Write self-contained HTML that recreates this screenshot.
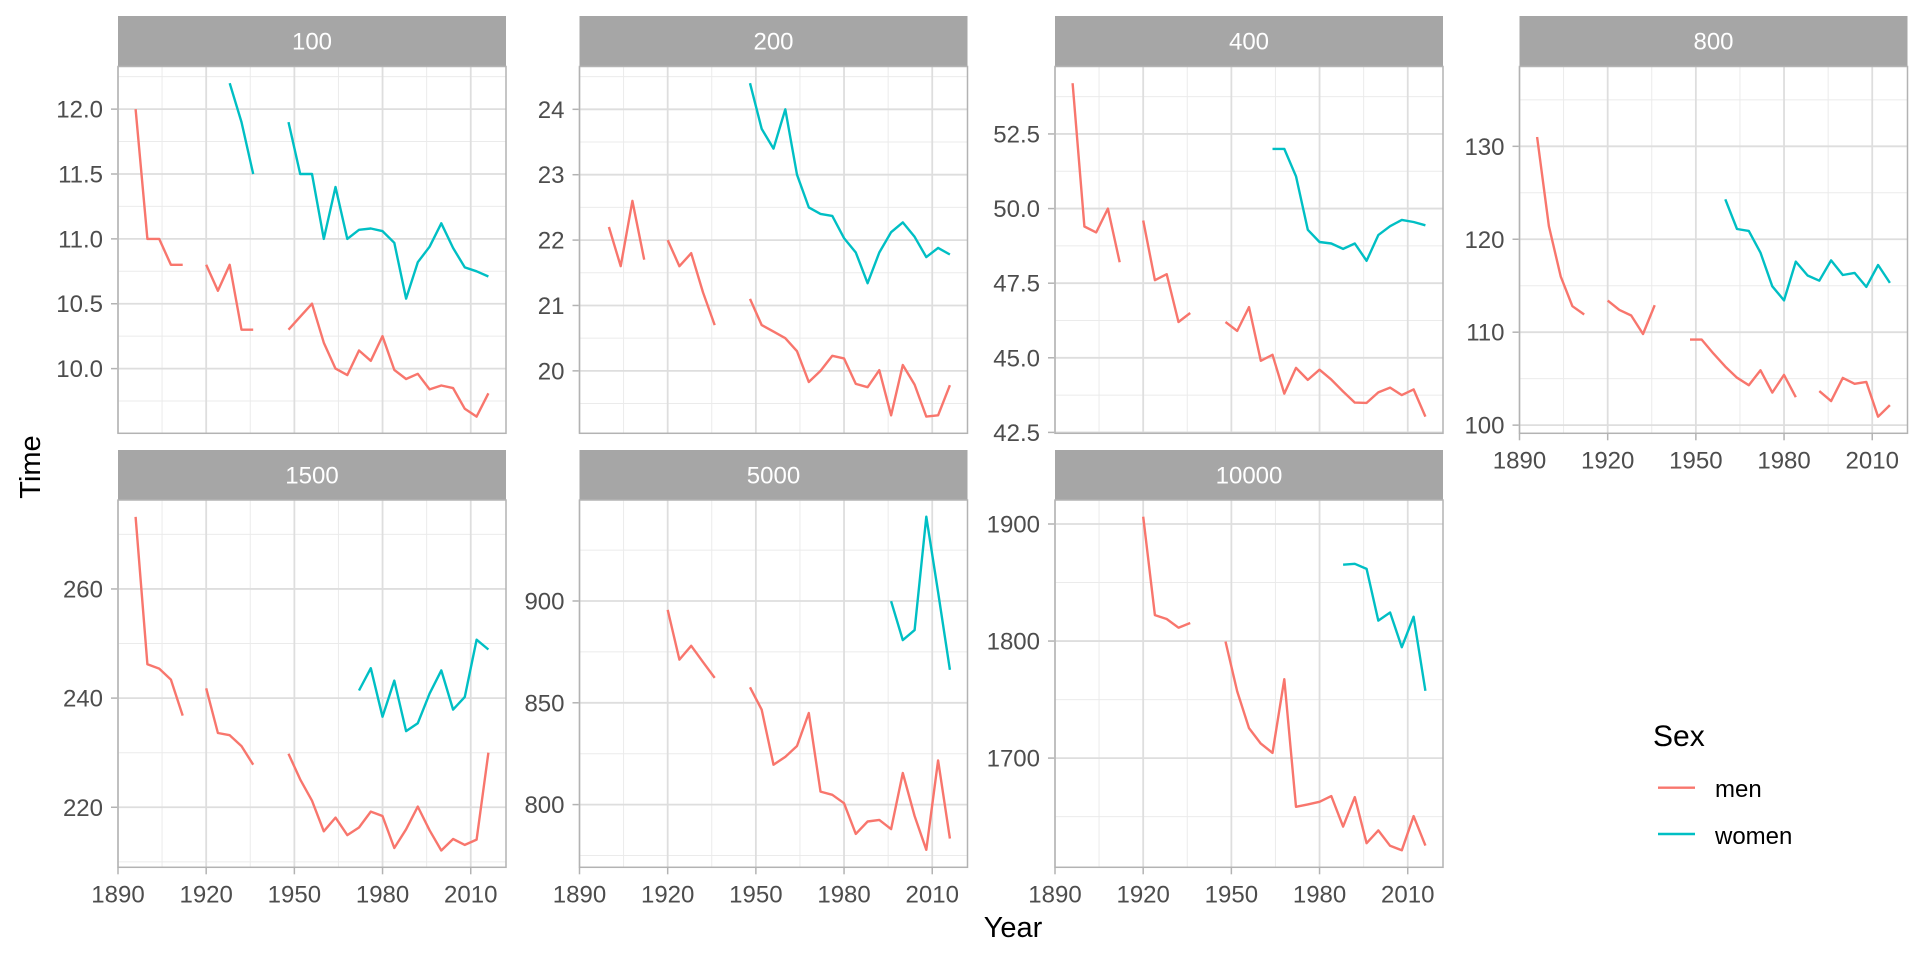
<!DOCTYPE html>
<html><head><meta charset="utf-8"><style>
html,body{margin:0;padding:0;background:#fff;}
svg{display:block;}
text{font-family:"Liberation Sans",Arial,sans-serif;}
</style></head><body>
<svg id="c" width="1920" height="960" xmlns="http://www.w3.org/2000/svg"></svg>
<script>
const S=document.getElementById('c');
let h='';
const W=388, XL=1890, XR=2022;
const cols=[118,579.5,1055,1519.5];
const rows=[{s:16,t:66.5,b:433.3},{s:450,t:500,b:867.3}];
const RED='#F8766D', TEAL='#00BFC4';
function yrs(a,b){const r=[];for(let y=a;y<=b;y+=4)r.push(y);return r;}
function ser(start,vals){return vals.map((v,i)=>[start+4*i,v]);}
const P=[
{name:'100',c:0,r:0,d:[9.5015,12.3285],maj:[10,10.5,11,11.5,12],lab:['10.0','10.5','11.0','11.5','12.0'],min:[9.75,10.25,10.75,11.25,11.75,12.25],
 men:ser(1896,[12.0,11.0,11.0,10.8,10.8,null,10.8,10.6,10.8,10.3,10.3,null,null,10.3,10.4,10.5,10.2,10.0,9.95,10.14,10.06,10.25,9.99,9.92,9.96,9.84,9.87,9.85,9.69,9.63,9.81]),
 wom:ser(1928,[12.2,11.9,11.5,null,null,11.9,11.5,11.5,11.0,11.4,11.0,11.07,11.08,11.06,10.97,10.54,10.82,10.94,11.12,10.93,10.78,10.75,10.71])},
{name:'200',c:1,r:0,d:[19.045,24.655],maj:[20,21,22,23,24],lab:['20','21','22','23','24'],min:[19.5,20.5,21.5,22.5,23.5,24.5],
 men:ser(1900,[22.2,21.6,22.6,21.7,null,22.0,21.6,21.8,21.2,20.7,null,null,21.1,20.7,20.6,20.5,20.3,19.83,20.0,20.23,20.19,19.8,19.75,20.01,19.32,20.09,19.79,19.30,19.32,19.78]),
 wom:ser(1948,[24.4,23.7,23.4,24.0,23.0,22.5,22.4,22.37,22.03,21.81,21.34,21.81,22.12,22.27,22.05,21.74,21.88,21.78])},
{name:'400',c:2,r:0,d:[42.47,54.76],maj:[42.5,45,47.5,50,52.5],lab:['42.5','45.0','47.5','50.0','52.5'],min:[43.75,46.25,48.75,51.25,53.75],
 men:ser(1896,[54.2,49.4,49.2,50.0,48.2,null,49.6,47.6,47.8,46.2,46.5,null,null,46.2,45.9,46.7,44.9,45.1,43.8,44.66,44.26,44.6,44.27,43.87,43.5,43.49,43.84,44.0,43.75,43.94,43.03]),
 wom:ser(1964,[52.0,52.0,51.08,49.29,48.88,48.83,48.65,48.83,48.25,49.11,49.41,49.62,49.55,49.44])},
{name:'800',c:3,r:0,d:[99.12,138.59],maj:[100,110,120,130],lab:['100','110','120','130'],min:[105,115,125,135],xax:true,
 men:ser(1896,[131.0,121.4,116.0,112.8,111.9,null,113.4,112.4,111.8,109.8,112.9,null,null,109.2,109.2,107.7,106.3,105.1,104.3,105.9,103.5,105.4,103.0,null,103.66,102.58,105.08,104.45,104.65,100.91,102.15]),
 wom:ser(1960,[124.3,121.1,120.9,118.55,114.94,113.42,117.6,116.1,115.54,117.73,116.15,116.38,114.87,117.23,115.3])},
{name:'1500',c:0,r:1,d:[209.0,276.3],maj:[220,240,260],lab:['220','240','260'],min:[210,230,250,270],xax:true,
 men:ser(1896,[273.2,246.2,245.4,243.4,236.8,null,241.8,233.6,233.2,231.2,227.8,null,null,229.8,225.1,221.2,215.6,218.1,214.9,216.3,219.2,218.4,212.53,215.96,220.12,215.78,212.07,214.18,213.11,214.08,230.0]),
 wom:ser(1972,[241.4,245.48,236.6,243.2,233.96,235.4,240.83,245.08,237.9,240.23,250.7,248.9])},
{name:'5000',c:1,r:1,d:[769.2,949.6],maj:[800,850,900],lab:['800','850','900'],min:[775,825,875,925],xax:true,
 men:ser(1920,[895.6,871.2,878.0,870.0,862.2,null,null,857.6,846.6,819.6,823.4,828.8,845.0,806.4,804.8,800.7,785.6,791.7,792.5,787.96,815.5,794.4,777.8,821.7,783.3]),
 wom:ser(1996,[899.9,880.8,885.7,941.4,904.3,866.2])},
{name:'10000',c:2,r:1,d:[1606.7,1920.5],maj:[1700,1800,1900],lab:['1700','1800','1900'],min:[1650,1750,1850],xax:true,
 men:ser(1920,[1906.2,1822.2,1818.8,1811.4,1815.4,null,null,1799.6,1757.0,1725.6,1712.4,1704.4,1767.4,1658.4,1660.4,1662.7,1667.5,1641.5,1666.7,1627.3,1638.2,1625.1,1621.2,1650.4,1625.2]),
 wom:ser(1988,[1865.2,1866.0,1861.6,1817.5,1824.4,1794.7,1820.8,1757.5])}
];
for(const p of P){
  const L=cols[p.c], R=L+W, row=rows[p.r], T=row.t, B=row.b;
  const X=y=>L+(y-XL)/(XR-XL)*W;
  const Y=v=>B-(v-p.d[0])/(p.d[1]-p.d[0])*(B-T);
  // strip
  h+=`<rect x="${L}" y="${row.s}" width="${W}" height="${T-row.s}" fill="#A6A6A6"/>`;
  h+=`<text x="${L+W/2}" y="${row.s+33.5}" font-size="24" fill="#fff" text-anchor="middle">${p.name}</text>`;
  // minor grid
  for(const m of p.min){const y=Y(m);if(y>T&&y<B)h+=`<line x1="${L}" x2="${R}" y1="${y}" y2="${y}" stroke="#EBEBEB" stroke-width="1"/>`;}
  for(const yr of [1905,1935,1965,1995]){const x=X(yr);h+=`<line x1="${x}" x2="${x}" y1="${T}" y2="${B}" stroke="#EBEBEB" stroke-width="1"/>`;}
  // major grid
  p.maj.forEach((m,i)=>{const y=Y(m);h+=`<line x1="${L}" x2="${R}" y1="${y}" y2="${y}" stroke="#DEDEDE" stroke-width="1.8"/>`;
    h+=`<line x1="${L-7}" x2="${L}" y1="${y}" y2="${y}" stroke="#B3B3B3" stroke-width="1.5"/>`;
    h+=`<text x="${L-15}" y="${y+8.5}" font-size="24" fill="#4D4D4D" text-anchor="end">${p.lab[i]}</text>`;});
  for(const yr of [1890,1920,1950,1980,2010]){const x=X(yr);h+=`<line x1="${x}" x2="${x}" y1="${T}" y2="${B}" stroke="#DEDEDE" stroke-width="1.8"/>`;
    if(p.xax){h+=`<line x1="${x}" x2="${x}" y1="${B}" y2="${B+7}" stroke="#B3B3B3" stroke-width="1.5"/>`;
      h+=`<text x="${x}" y="${B+35}" font-size="24" fill="#4D4D4D" text-anchor="middle">${yr}</text>`;}}
  // series
  for(const [data,col] of [[p.men,RED],[p.wom,TEAL]]){
    let seg=[];const segs=[];
    for(const [yr,v] of data){if(v==null){if(seg.length)segs.push(seg);seg=[];}else seg.push([X(yr),Y(v)]);}
    if(seg.length)segs.push(seg);
    for(const s of segs){if(s.length<2)continue;h+=`<polyline fill="none" stroke="${col}" stroke-width="2.4" stroke-linejoin="round" points="${s.map(q=>q[0].toFixed(1)+','+q[1].toFixed(1)).join(' ')}"/>`;}
  }
  h+=`<rect x="${L}" y="${T}" width="${W}" height="${B-T}" fill="none" stroke="#B3B3B3" stroke-width="1.5"/>`;
}
h+=`<text x="1013" y="937" font-size="29" fill="#000" text-anchor="middle">Year</text>`;
h+=`<text transform="translate(40,467) rotate(-90)" font-size="29" fill="#000" text-anchor="middle">Time</text>`;
h+=`<text x="1653" y="746" font-size="30" fill="#000">Sex</text>`;
h+=`<line x1="1658" x2="1695" y1="787.7" y2="787.7" stroke="${RED}" stroke-width="2.4"/>`;
h+=`<text x="1715" y="797" font-size="24" fill="#000">men</text>`;
h+=`<line x1="1658" x2="1695" y1="834" y2="834" stroke="${TEAL}" stroke-width="2.4"/>`;
h+=`<text x="1715" y="844" font-size="24" fill="#000">women</text>`;
S.innerHTML=h;
</script>
</body></html>
